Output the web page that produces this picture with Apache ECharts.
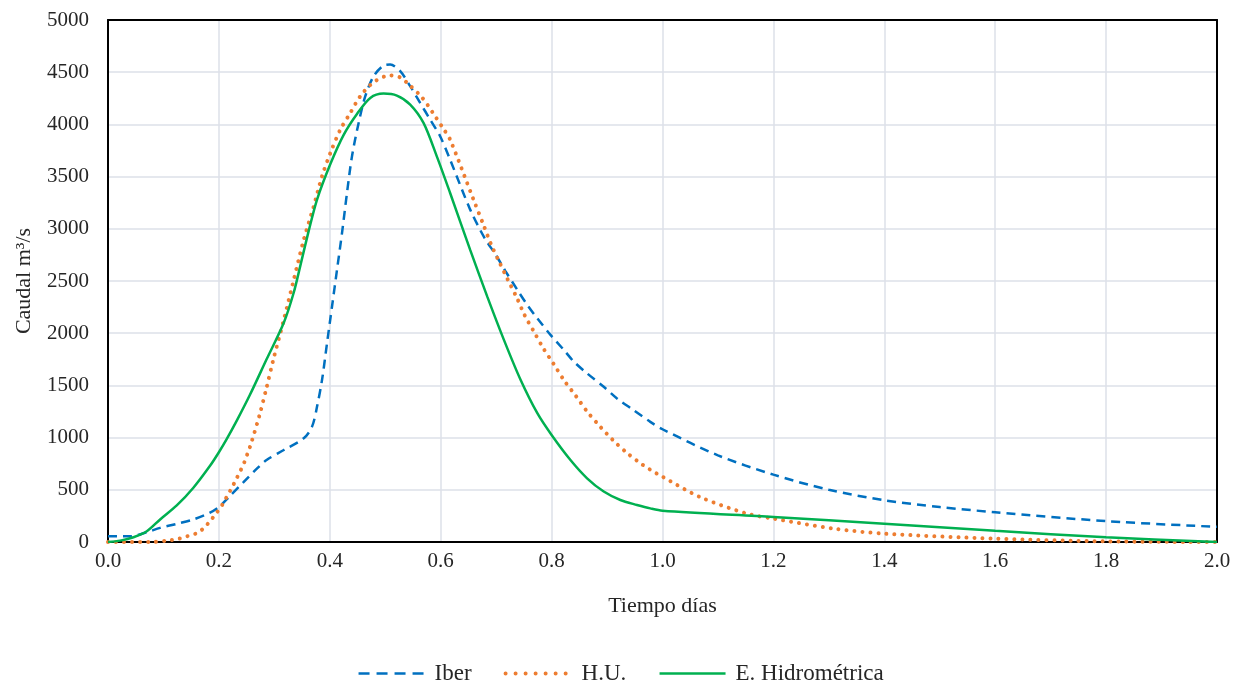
<!DOCTYPE html>
<html>
<head>
<meta charset="utf-8">
<script src="https://cdn.jsdelivr.net/npm/echarts@6/dist/echarts.min.js"></script>
<style>html,body{margin:0;padding:0;background:#fff}#c{width:1241px;height:684px}</style>
</head>
<body>
<div id="c"></div>
<script>
const xTicks = [0.0, 0.2, 0.4, 0.6, 0.8, 1.0, 1.2, 1.4, 1.6, 1.8, 2.0];
const yTicks = [0, 500, 1000, 1500, 2000, 2500, 3000, 3500, 4000, 4500, 5000];

const iberX = [0, 0.041, 0.07, 0.094, 0.124, 0.154, 0.184, 0.2, 0.22, 0.244, 0.268, 0.286, 0.317, 0.353, 0.368, 0.377, 0.386, 0.395, 0.404, 0.413, 0.422, 0.431, 0.44, 0.452, 0.464, 0.479, 0.497, 0.509, 0.527, 0.545, 0.563, 0.581, 0.599, 0.617, 0.653, 0.679, 0.699, 0.717, 0.738, 0.756, 0.774, 0.798, 0.822, 0.84, 0.864, 0.894, 0.918, 0.948, 0.978, 1.0, 1.1, 1.2, 1.3, 1.4, 1.5, 1.6, 1.8, 2.0];
const iberY = [55, 55, 94, 135, 174, 216, 281, 335, 442, 571, 700, 785, 881, 993, 1105, 1297, 1553, 1905, 2256, 2608, 2959, 3343, 3694, 4014, 4270, 4462, 4564, 4574, 4510, 4366, 4206, 4046, 3886, 3662, 3186, 2913, 2753, 2593, 2417, 2272, 2144, 1984, 1840, 1728, 1615, 1487, 1375, 1263, 1151, 1080, 830, 645, 500, 400, 335, 285, 200, 145];

const huX = [0, 0.077, 0.107, 0.128, 0.143, 0.161, 0.173, 0.185, 0.196, 0.206, 0.214, 0.223, 0.231, 0.239, 0.246, 0.252, 0.258, 0.274, 0.286, 0.298, 0.317, 0.335, 0.353, 0.371, 0.386, 0.401, 0.419, 0.437, 0.455, 0.479, 0.509, 0.527, 0.539, 0.566, 0.586, 0.605, 0.617, 0.659, 0.678, 0.691, 0.706, 0.721, 0.737, 0.751, 0.768, 0.785, 0.804, 0.823, 0.844, 0.864, 0.887, 0.911, 0.936, 0.964, 0.978, 1.0, 1.068, 1.152, 1.2, 1.309, 1.4, 1.6, 1.8, 2.0];
const huY = [0, 0, 13, 32, 55, 87, 135, 206, 281, 355, 432, 516, 600, 684, 765, 852, 942, 1230, 1480, 1744, 2128, 2512, 2895, 3215, 3503, 3726, 3950, 4110, 4270, 4404, 4470, 4450, 4400, 4260, 4110, 3957, 3854, 3282, 3026, 2849, 2679, 2513, 2343, 2176, 2016, 1856, 1702, 1545, 1397, 1250, 1109, 974, 853, 740, 692, 625, 430, 272, 224, 128, 80, 32, 6, 0];

const ehX = [0, 0.022, 0.046, 0.07, 0.094, 0.124, 0.154, 0.184, 0.2, 0.214, 0.232, 0.256, 0.286, 0.317, 0.335, 0.347, 0.362, 0.377, 0.401, 0.425, 0.449, 0.473, 0.497, 0.521, 0.545, 0.569, 0.593, 0.617, 0.653, 0.684, 0.714, 0.744, 0.774, 0.8, 0.834, 0.864, 0.894, 0.924, 0.954, 0.978, 1.0, 1.2, 1.4, 1.6, 1.8, 2.0];
const ehY = [0, 13, 45, 103, 216, 350, 520, 730, 860, 985, 1160, 1410, 1750, 2100, 2390, 2650, 2980, 3280, 3620, 3900, 4100, 4254, 4295, 4276, 4190, 4014, 3694, 3343, 2800, 2350, 1936, 1554, 1236, 1025, 785, 610, 483, 402, 355, 322, 300, 240, 175, 108, 45, 0];

const seriesNames = ['Iber', 'H.U.', 'E. Hidrométrica'];

function pairs(xs, ys) { return xs.map((x, i) => [x, ys[i]]); }

const FONT = '"Liberation Serif", "DejaVu Serif", serif';
const TXT = '#262626';
const styles = [
  {color: '#0070C0', width: 2.5, type: [9, 6], cap: 'butt'},
  {color: '#ED7D31', width: 4, type: [0.01, 8], cap: 'round'},
  {color: '#00B050', width: 2.5, type: 'solid', cap: 'butt'}
];
const legendStyles = [
  {color: '#0070C0', width: 2.5, type: [11, 7], cap: 'butt'},
  {color: '#ED7D31', width: 4, type: [0.01, 10], cap: 'round'},
  {color: '#00B050', width: 2.5, type: 'solid', cap: 'butt'}
];
const chart = echarts.init(document.getElementById('c'), null, {renderer: 'canvas'});
chart.setOption({
  animation: false,
  backgroundColor: '#fff',
  textStyle: {fontFamily: FONT},
  grid: {left: 108, right: 24, top: 20, bottom: 142, containLabel: false, outerBoundsMode: 'none'},
  legend: {
    top: 657, left: 'center', itemGap: 32, itemWidth: 66, itemHeight: 14,
    textStyle: {fontFamily: FONT, fontSize: 23, color: TXT, padding: [0, 0, 0, 5]},
    data: seriesNames.map((n, i) => ({name: n, itemStyle: {opacity: 0}, lineStyle: Object.assign({}, legendStyles[i])}))
  },
  xAxis: [{
    type: 'value', min: 0, max: 2, interval: 0.2,
    name: 'Tiempo días', nameLocation: 'middle', nameGap: 53,
    nameTextStyle: {fontFamily: FONT, fontSize: 22, color: TXT},
    axisLine: {show: true, onZero: false, lineStyle: {color: '#000', width: 2}},
    axisTick: {show: false},
    axisLabel: {fontFamily: FONT, fontSize: 21, color: TXT, margin: 9, formatter: v => (Math.round(v * 10) / 10).toFixed(1)},
    splitLine: {show: true, lineStyle: {color: '#dde1e8', width: 1.5}}
  }, {
    type: 'value', min: 0, max: 2, position: 'top',
    axisLine: {show: true, onZero: false, lineStyle: {color: '#000', width: 2}},
    axisTick: {show: false}, axisLabel: {show: false}, splitLine: {show: false}
  }],
  yAxis: [{
    type: 'value', min: 0, max: 5000, interval: 500,
    name: 'Caudal m³/s', nameLocation: 'middle', nameGap: 73, nameRotate: 90,
    nameTextStyle: {fontFamily: FONT, fontSize: 22, color: TXT},
    axisLine: {show: true, lineStyle: {color: '#000', width: 2}},
    axisTick: {show: false},
    axisLabel: {fontFamily: FONT, fontSize: 21, color: TXT, margin: 19, formatter: v => String(v)},
    splitLine: {show: true, lineStyle: {color: '#dde1e8', width: 1.5}}
  }, {
    type: 'value', min: 0, max: 5000, position: 'right',
    axisLine: {show: true, onZero: false, lineStyle: {color: '#000', width: 2}},
    axisTick: {show: false}, axisLabel: {show: false}, splitLine: {show: false}
  }],
  series: [
    {name: seriesNames[0], type: 'line', data: pairs(iberX, iberY), smooth: 0.3, showSymbol: false, symbol: 'none',
     itemStyle: {color: styles[0].color}, lineStyle: styles[0]},
    {name: seriesNames[1], type: 'line', data: pairs(huX, huY), smooth: 0.3, showSymbol: false, symbol: 'none',
     itemStyle: {color: styles[1].color}, lineStyle: styles[1]},
    {name: seriesNames[2], type: 'line', data: pairs(ehX, ehY), smooth: 0.3, showSymbol: false, symbol: 'none',
     itemStyle: {color: styles[2].color}, lineStyle: styles[2]}
  ]
});
</script>
</body>
</html>
